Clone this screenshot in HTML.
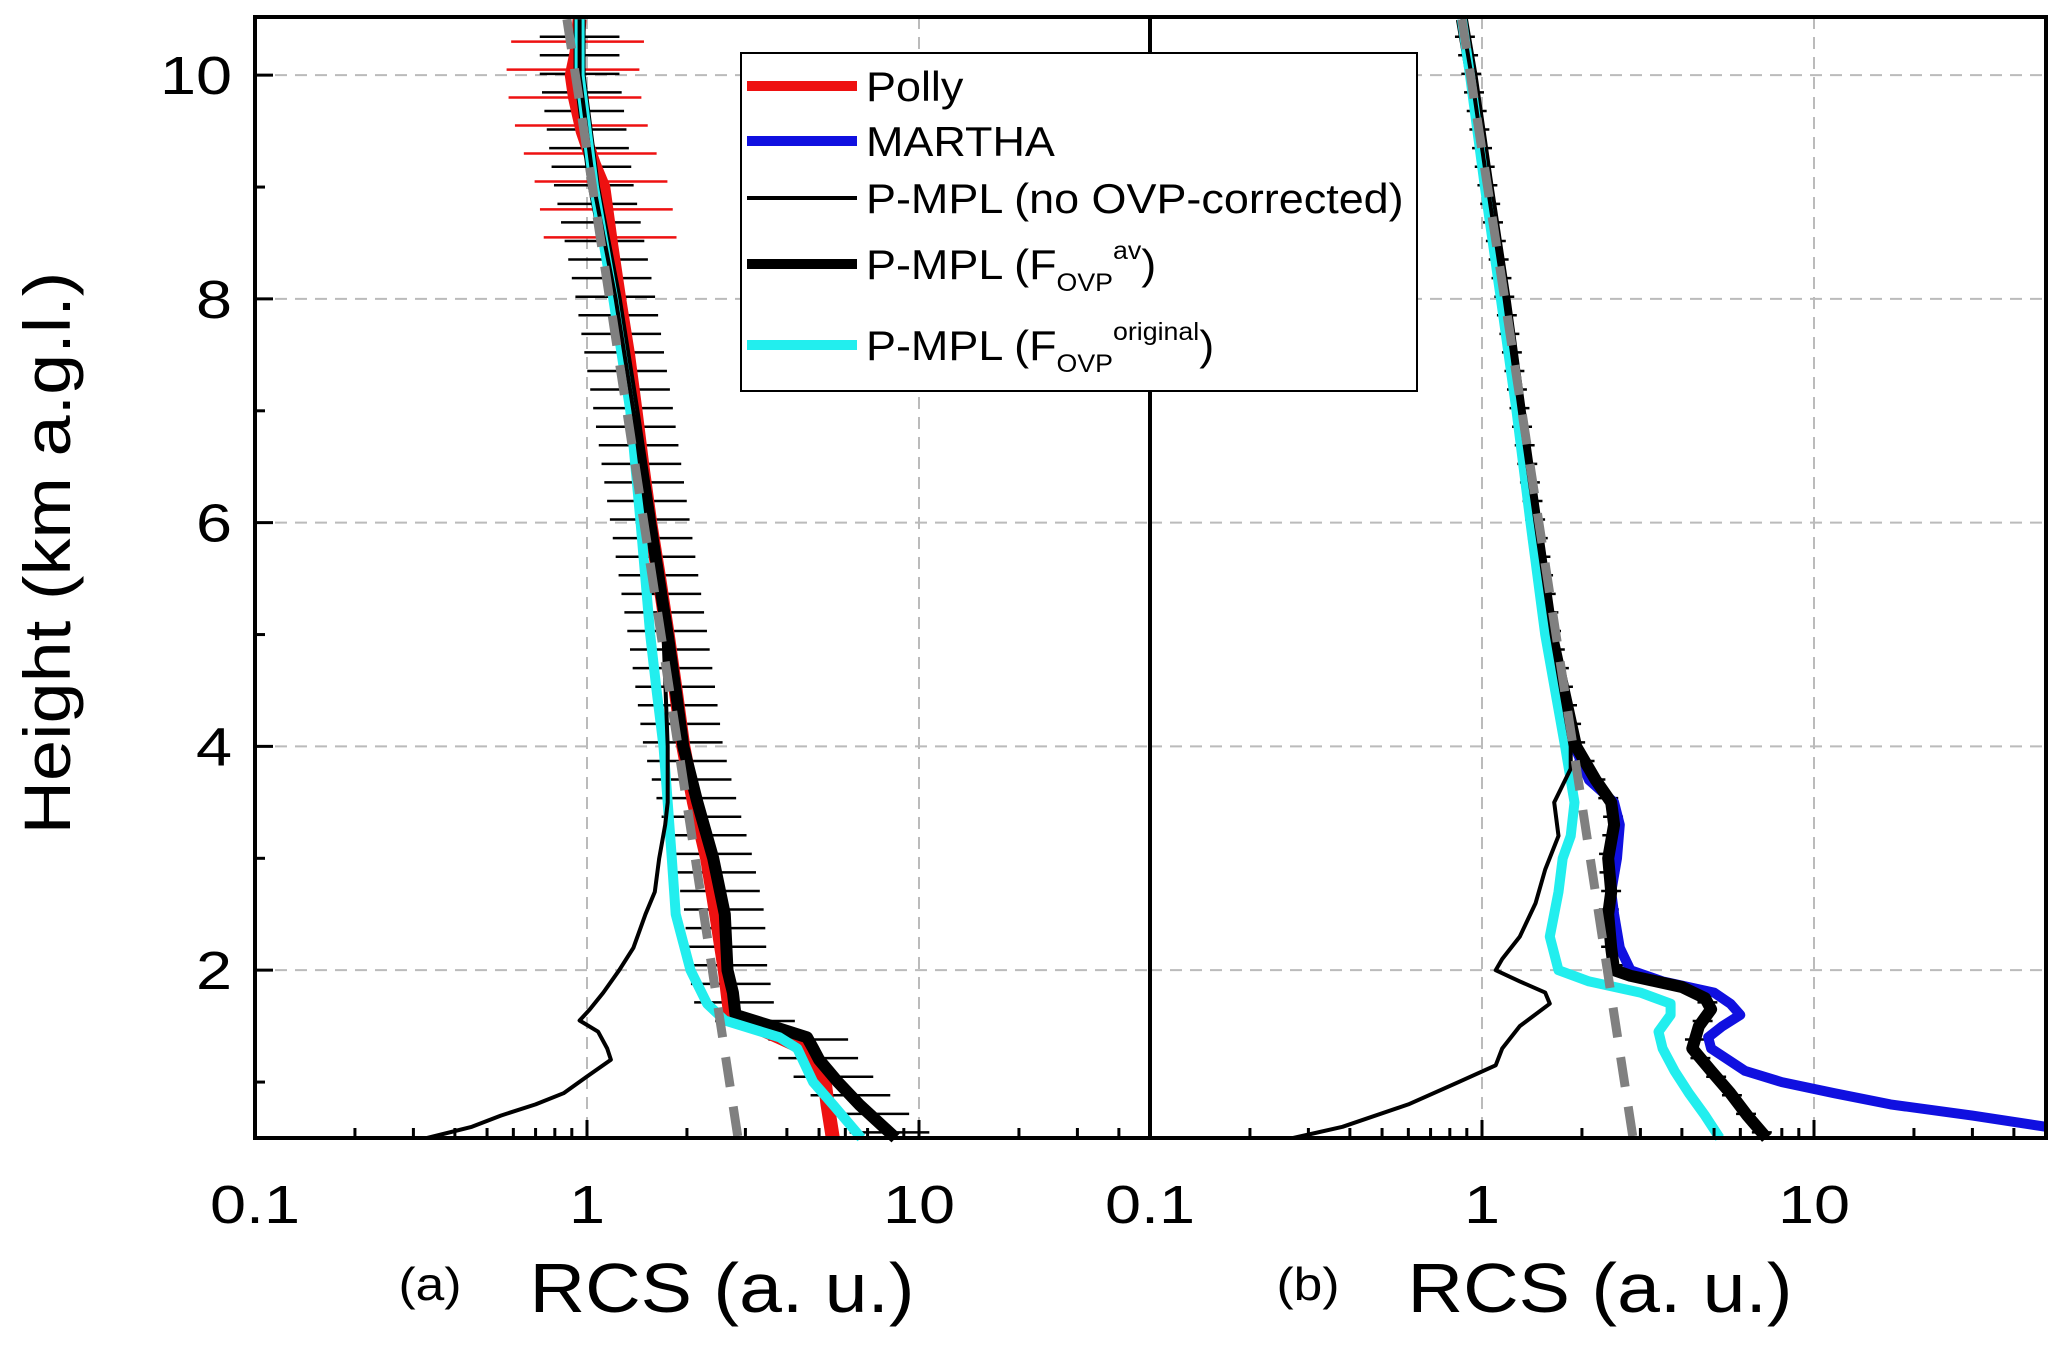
<!DOCTYPE html>
<html><head><meta charset="utf-8"><style>
html,body{margin:0;padding:0;background:#fff;}
svg{display:block;font-family:"Liberation Sans",Arial,sans-serif;}
</style></head><body>
<svg id="chart" width="2067" height="1349" viewBox="0 0 2067 1349" xmlns="http://www.w3.org/2000/svg">
<g id="grid"></g>
<g id="series"></g>
<g id="axes"></g>
<text x="0" y="0" transform="translate(70,553) rotate(-90) scale(1.12,1)" text-anchor="middle" font-size="66">Height (km a.g.l.)</text>
<text x="0" y="0" transform="translate(430,1300) scale(1.12,1)" text-anchor="middle" font-size="46">(a)</text>
<text x="0" y="0" transform="translate(722,1312) scale(1.1,1)" text-anchor="middle" font-size="70">RCS (a. u.)</text>
<text x="0" y="0" transform="translate(1308,1300) scale(1.12,1)" text-anchor="middle" font-size="46">(b)</text>
<text x="0" y="0" transform="translate(1600,1312) scale(1.1,1)" text-anchor="middle" font-size="70">RCS (a. u.)</text>
<g>
<rect x="741" y="53" width="676" height="338" fill="#fff" stroke="#000" stroke-width="2"/>
<line x1="747" y1="86" x2="857" y2="86" stroke="#ee1111" stroke-width="10"/>
<text x="0" y="0" transform="translate(866,101) scale(1.07,1)" font-size="42">Polly</text>
<line x1="747" y1="141" x2="857" y2="141" stroke="#1010e0" stroke-width="10"/>
<text x="0" y="0" transform="translate(866,156) scale(1.07,1)" font-size="42">MARTHA</text>
<line x1="747" y1="198" x2="857" y2="198" stroke="#000" stroke-width="4"/>
<text x="0" y="0" transform="translate(866,213) scale(1.07,1)" font-size="42">P-MPL (no OVP-corrected)</text>
<line x1="747" y1="264" x2="857" y2="264" stroke="#000" stroke-width="10"/>
<text x="0" y="0" transform="translate(866,279) scale(1.07,1)" font-size="42">P-MPL (F<tspan font-size="25" dy="12">OVP</tspan><tspan font-size="25" dy="-32">av</tspan><tspan dy="20">)</tspan></text>
<line x1="747" y1="345" x2="857" y2="345" stroke="#22eeee" stroke-width="10"/>
<text x="0" y="0" transform="translate(866,360) scale(1.07,1)" font-size="42">P-MPL (F<tspan font-size="25" dy="12">OVP</tspan><tspan font-size="25" dy="-32">original</tspan><tspan dy="20">)</tspan></text>
</g>
</svg>
<script>
// ---- data ----
const molH = [10.5, 0.5];
const molV = [0.87, 2.85];
const aPollyH = [10.5,10.2,10,9.8,9.5,9.2,9,8.5,8,7.5,7,6.5,6,5.5,5,4.5,4,3.5,3,2.5,2,1.6,1.5,1.4,1.3,1.1,1.0,0.8,0.5];
const aPollyV = [0.95,0.93,0.9,0.92,0.97,1.05,1.12,1.18,1.25,1.33,1.4,1.47,1.55,1.65,1.75,1.85,1.95,2.1,2.3,2.45,2.6,2.7,3.2,3.8,4.5,5.0,5.2,5.3,5.5];
const aAvH = [10.5,10,9,8,7,6,5,4.5,4,3.5,3,2.5,2,1.8,1.6,1.5,1.4,1.3,1.2,1.0,0.8,0.5];
const aAvV = [0.95,0.95,1.05,1.22,1.38,1.55,1.75,1.85,1.95,2.15,2.4,2.6,2.65,2.75,2.8,3.6,4.6,4.8,5.0,5.7,6.6,8.5];
const aOrigH = [10.5,10,9,8,7,6,5,4.5,4,3.5,3,2.5,2,1.7,1.55,1.4,1.3,1.0,0.8,0.5];
const aOrigV = [0.95,0.95,1.05,1.2,1.35,1.45,1.55,1.62,1.7,1.75,1.8,1.85,2.05,2.3,2.6,3.8,4.3,4.8,5.5,6.7];
const aRawH = [10.5,10,9,8,7,6,5,4,3.5,3.3,3,2.7,2.5,2.2,2,1.8,1.65,1.55,1.45,1.3,1.2,1.05,0.9,0.8,0.7,0.6,0.5];
const aRawV = [0.95,0.95,1.05,1.22,1.38,1.52,1.7,1.75,1.75,1.72,1.65,1.6,1.5,1.38,1.25,1.12,1.02,0.95,1.08,1.15,1.18,1.0,0.85,0.7,0.55,0.45,0.33];
const bMarthaH = [10.5,10,9,8,7,6,5,4,3.7,3.5,3.3,3,2.7,2.5,2.2,2,1.9,1.8,1.7,1.6,1.5,1.4,1.3,1.1,1.0,0.9,0.8,0.7,0.6];
const bMarthaV = [0.87,0.93,1.04,1.17,1.3,1.45,1.62,1.9,2.1,2.5,2.6,2.55,2.45,2.5,2.6,2.8,3.5,5.0,5.6,6.0,5.3,4.8,4.9,6.2,8,11.5,17,30,50];
const bAvH = [10.5,10,9,8,7,6,5,4,3.7,3.5,3.3,3,2.7,2.5,2.2,2,1.95,1.85,1.75,1.65,1.5,1.3,1.1,0.9,0.7,0.5];
const bAvV = [0.87,0.93,1.04,1.17,1.3,1.45,1.62,1.92,2.2,2.45,2.5,2.4,2.45,2.4,2.45,2.5,2.8,4.0,4.7,4.9,4.5,4.3,4.9,5.6,6.3,7.2];
const bOrigH = [10.5,10,9,8,7,6,5,4,3.5,3.2,3,2.7,2.3,2,1.9,1.8,1.7,1.6,1.45,1.3,1.1,0.9,0.7,0.5];
const bOrigV = [0.87,0.92,1.02,1.14,1.27,1.4,1.55,1.78,1.9,1.85,1.75,1.7,1.6,1.7,2.1,3.0,3.7,3.7,3.4,3.5,3.8,4.2,4.7,5.2];
const bRawH = [10.5,10,9,8,7,6,5,4,3.8,3.5,3.2,2.9,2.6,2.3,2.1,2.0,1.9,1.8,1.7,1.5,1.3,1.15,1.0,0.8,0.6,0.5];
const bRawV = [0.87,0.93,1.04,1.17,1.3,1.45,1.62,1.85,1.85,1.65,1.7,1.55,1.45,1.3,1.15,1.1,1.3,1.55,1.6,1.3,1.15,1.1,0.85,0.6,0.38,0.27];
const errDecA = 0.12, errDecB = 0.03;
const yTicks = [2,4,6,8,10];
const yTickLabels = ["2","4","6","8","10"];
const xDecades = [0.1,1,10];
const xTickLabels = ["0.1","1","10"];

// ---- axes functions ----
const TOP=17, BOT=1138, YMIN=0.5, YMAX=10.52;
const panels=[{x0:255,x1:1150},{x0:1150,x1:2046}];
const DEC=332;
function yS(h){return BOT-(h-YMIN)/(YMAX-YMIN)*(BOT-TOP);}
function xS(p,v){return panels[p].x0+(Math.log10(v)+1)*DEC;}
const NS="http://www.w3.org/2000/svg";
function mk(tag,attrs,parent){const e=document.createElementNS(NS,tag);for(const k in attrs)e.setAttribute(k,attrs[k]);parent.appendChild(e);return e;}
const grid=document.getElementById('grid'),ser=document.getElementById('series'),axes=document.getElementById('axes');

for(let p=0;p<2;p++){
  const P=panels[p];
  yTicks.forEach(t=>{const l=mk('line',{x1:P.x0,x2:P.x1,y1:yS(t),y2:yS(t),stroke:'#bbb','stroke-width':2,'stroke-dasharray':'12,8'},grid);
  
  });
  xDecades.slice(1).forEach(d=>{const l=mk('line',{x1:xS(p,d),x2:xS(p,d),y1:TOP,y2:BOT,stroke:'#bbb','stroke-width':2,'stroke-dasharray':'12,8'},grid);
  
  });
}

function path(p,H,V,color,w,name,dash){
  let d='';H.forEach((h,i)=>{d+=(i?'L':'M')+xS(p,V[i]).toFixed(1)+','+yS(h).toFixed(1);});
  const a={d:d,fill:'none',stroke:color,'stroke-width':w,'stroke-linejoin':'round'};
  if(dash)a['stroke-dasharray']=dash;
  const e=mk('path',a,ser);
  
  
}
function interp(H,V,h){for(let i=0;i<H.length-1;i++){if(h<=H[i]&&h>=H[i+1]){const t=(H[i]-h)/(H[i]-H[i+1]);return Math.pow(10,Math.log10(V[i])*(1-t)+Math.log10(V[i+1])*t);}}return null;}
function errbars(p,H,V,dec,color,w,name,step){
  for(let h=0.55;h<=10.45;h+=step){const v=interp(H,V,h);if(!v)continue;
    const e=mk('line',{x1:xS(p,v/Math.pow(10,dec)),x2:xS(p,v*Math.pow(10,dec)),y1:yS(h),y2:yS(h),stroke:color,'stroke-width':w},ser);
    
    }
}
// panel a
errbars(0,aAvH,aAvV,errDecA,'#000',2.5,'error-bar-pmpl-av',0.166);
errbars(0,aPollyH.filter(h=>h>8.4),aPollyV.filter((v,i)=>aPollyH[i]>8.4),0.2,'#ee1111',2.5,'error-bar-polly',0.25);
path(0,aPollyH,aPollyV,'#ee1111',14,'polly-line-a');
path(0,aAvH,aAvV,'#000',12,'pmpl-av-line-a');
path(0,aOrigH,aOrigV,'#22eeee',10,'pmpl-orig-line-a');
path(0,aRawH,aRawV,'#000',4,'pmpl-raw-line-a');
path(0,molH,molV,'#808080',9,'molecular-line-a','30,20');
// panel b
errbars(1,bAvH,bAvV,errDecB,'#000',2.5,'error-bar-pmpl-av-b',0.166);
path(1,bMarthaH,bMarthaV,'#1010e0',10,'martha-line-b');
path(1,bAvH,bAvV,'#000',12,'pmpl-av-line-b');
path(1,bOrigH,bOrigV,'#22eeee',10,'pmpl-orig-line-b');
path(1,bRawH,bRawV,'#000',4,'pmpl-raw-line-b');
path(1,molH,molV,'#808080',9,'molecular-line-b','30,20');

// frame
let f=mk('rect',{x:255,y:TOP,width:2046-255,height:BOT-TOP,fill:'none',stroke:'#000','stroke-width':4},axes);


f=mk('line',{x1:1150,x2:1150,y1:TOP,y2:BOT,stroke:'#000','stroke-width':4},axes);


// y ticks
for(let h=1;h<=10;h++){const major=h%2===0;const l=mk('line',{x1:255,x2:255+(major?18:10),y1:yS(h),y2:yS(h),stroke:'#000','stroke-width':3},axes);
  
  }
yTicks.forEach((t,i)=>{const e=mk('text',{x:0,y:0,transform:'translate(232,'+(yS(t)+19)+') scale(1.2,1)','text-anchor':'end','font-size':54},axes);e.textContent=yTickLabels[i];
  
  });
// x ticks
for(let p=0;p<2;p++){
  for(let e10=-1;e10<=1;e10++){for(let m=1;m<=9;m++){const v=m*Math.pow(10,e10);const x=xS(p,v);if(x>panels[p].x1-2)continue;
    const l=mk('line',{x1:x,x2:x,y1:BOT,y2:BOT-(m===1?18:10),stroke:'#000','stroke-width':3},axes);
    
    }}
  xDecades.forEach((d,i)=>{const t=mk('text',{x:0,y:0,transform:'translate('+xS(p,d)+',1223) scale(1.2,1)','text-anchor':'middle','font-size':54},axes);t.textContent=xTickLabels[i];
    
    });
}
</script>
</body></html>
